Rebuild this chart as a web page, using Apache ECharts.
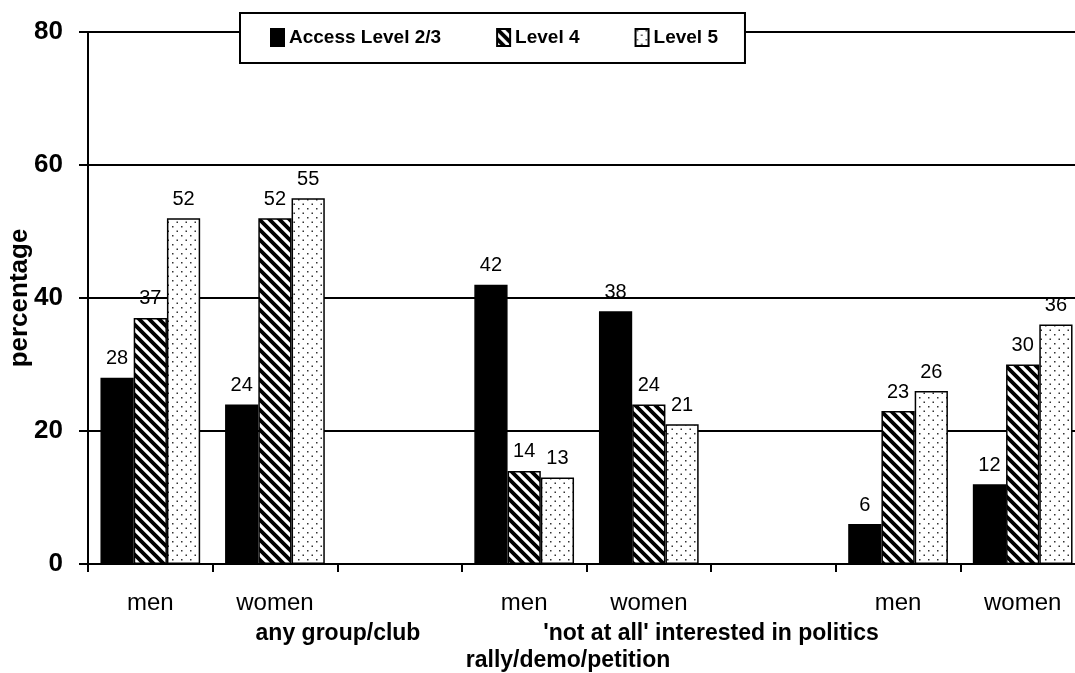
<!DOCTYPE html>
<html>
<head>
<meta charset="utf-8">
<script src="https://cdn.jsdelivr.net/npm/echarts@6/dist/echarts.min.js"></script>
<style>
html,body{margin:0;padding:0;background:#fff;}
#chart{width:1075px;height:673px;}
</style>
</head>
<body>
<div id="chart"></div>
<script>
// ---- data ----
var categories = ['men', 'women', '', 'men', 'women', '', 'men', 'women'];
var seriesNames = ['Access Level 2/3', 'Level 4', 'Level 5'];
var level23 = [28, 24, null, 42, 38, null, 6, 12];
var level4  = [37, 52, null, 14, 24, null, 23, 30];
var level5  = [52, 55, null, 13, 21, null, 26, 36];
var yTicks = [0, 20, 40, 60, 80];
var groupLabels = ['any group/club', "'not at all' interested in politics", 'rally/demo/petition'];

// ---- patterns ----
function hatchPattern() {
  var s = 10, c = document.createElement('canvas');
  c.width = s; c.height = s;
  var g = c.getContext('2d');
  g.fillStyle = '#fff'; g.fillRect(0, 0, s, s);
  g.strokeStyle = '#000'; g.lineWidth = 3.8; g.lineCap = 'square';
  g.beginPath();
  g.moveTo(-2, -2); g.lineTo(s + 2, s + 2);
  g.moveTo(-2, s - 2); g.lineTo(2, s + 2);
  g.moveTo(s - 2, -2); g.lineTo(s + 2, 2);
  g.stroke();
  return c;
}
function dotPattern() {
  var s = 9, c = document.createElement('canvas');
  c.width = s; c.height = s;
  var g = c.getContext('2d');
  g.fillStyle = '#fff'; g.fillRect(0, 0, s, s);
  g.fillStyle = '#333';
  g.fillRect(1, 1, 1.5, 1.5);
  g.fillRect(5.5, 5.5, 1.5, 1.5);
  return c;
}

var font = 'Arial, "Liberation Sans", sans-serif';
var chart = echarts.init(document.getElementById('chart'), null, {renderer: 'canvas'});

function barSeries(name, data, color) {
  return {
    name: name,
    type: 'bar',
    data: data,
    barGap: '0%',
    barCategoryGap: '20%',
    itemStyle: {color: color, borderColor: '#000', borderWidth: 1.5},
    label: {
      show: true, position: 'top', distance: 9,
      color: '#000', fontSize: 20, fontFamily: font
    },
    emphasis: {disabled: true}
  };
}

var option = {
  backgroundColor: '#fff',
  animation: false,
  grid: {left: 88, width: 997, top: 32, height: 532, outerBoundsMode: 'none', containLabel: false},
  legend: {
    left: 240, top: 13,
    padding: [15, 27, 16, 30],
    itemGap: 55, itemWidth: 13, itemHeight: 17,
    backgroundColor: '#fff', borderColor: '#000', borderWidth: 2,
    textStyle: {fontSize: 19, fontWeight: 'bold', color: '#000', fontFamily: font},
    data: seriesNames.map(function (n) { return {name: n, icon: 'rect'}; })
  },
  xAxis: {
    type: 'category',
    data: categories,
    axisLine: {lineStyle: {color: '#000', width: 2}},
    axisTick: {show: true, length: 8, interval: 0, lineStyle: {color: '#000', width: 2}},
    axisLabel: {interval: 0, margin: 27, color: '#000', fontSize: 24, fontFamily: font}
  },
  yAxis: {
    type: 'value',
    min: yTicks[0], max: yTicks[yTicks.length - 1], interval: 20,
    name: 'percentage', nameLocation: 'middle', nameGap: 55, nameRotate: 90,
    nameMoveOverlap: false,
    nameTextStyle: {fontSize: 26, fontWeight: 'bold', color: '#000', fontFamily: font},
    axisLine: {show: true, lineStyle: {color: '#000', width: 2}},
    axisTick: {show: true, length: 9, lineStyle: {color: '#000', width: 2}},
    axisLabel: {margin: 25, color: '#000', fontSize: 26, fontWeight: 'bold', fontFamily: font},
    splitLine: {show: true, lineStyle: {color: '#000', width: 2}}
  },
  series: [
    barSeries(seriesNames[0], level23, '#000'),
    barSeries(seriesNames[1], level4, {image: hatchPattern(), repeat: 'repeat'}),
    barSeries(seriesNames[2], level5, {image: dotPattern(), repeat: 'repeat'})
  ],
  graphic: [
    {type: 'text', style: {text: groupLabels[0], x: 338, y: 634, align: 'center', verticalAlign: 'middle', fontSize: 23, fontWeight: 'bold', fill: '#000', fontFamily: font}},
    {type: 'text', style: {text: groupLabels[1], x: 711, y: 634, align: 'center', verticalAlign: 'middle', fontSize: 23, fontWeight: 'bold', fill: '#000', fontFamily: font}},
    {type: 'text', style: {text: groupLabels[2], x: 568, y: 661, align: 'center', verticalAlign: 'middle', fontSize: 23, fontWeight: 'bold', fill: '#000', fontFamily: font}}
  ]
};
chart.setOption(option);
</script>
</body>
</html>
